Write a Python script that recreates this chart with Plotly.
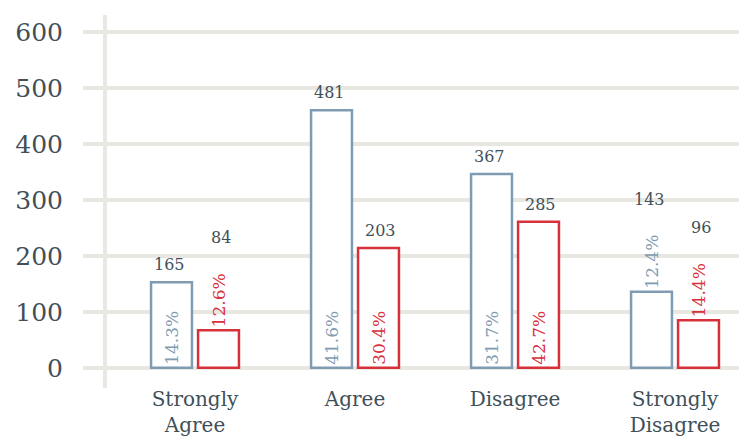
import plotly.graph_objects as go

categories = ["Strongly<br>Agree", "Agree", "Disagree", "Strongly<br>Disagree"]

# bar heights as drawn
blue_heights = [153, 460, 346, 136]
red_heights = [67, 214, 261, 85]

# labels shown on the chart
blue_counts = [165, 481, 367, 143]
red_counts = [84, 203, 285, 96]
blue_pct = ["14.3%", "41.6%", "31.7%", "12.4%"]
red_pct = ["12.6%", "30.4%", "42.7%", "14.4%"]
blue_pos = ["inside", "inside", "inside", "outside"]
red_pos = ["outside", "inside", "inside", "outside"]

y_ticks = [0, 100, 200, 300, 400, 500, 600]

BLUE = "#7f9cb3"
RED = "#d7303b"
TEXT = "#3f5059"
GRID = "#e9e7e1"
FONT = "DejaVu Serif"

x = list(range(len(categories)))

fig = go.Figure()
for heights, pct, pos, color in [(blue_heights, blue_pct, blue_pos, BLUE),
                                 (red_heights, red_pct, red_pos, RED)]:
    fig.add_trace(go.Bar(
        x=x,
        y=heights,
        marker=dict(color="white", line=dict(color=color, width=2.5)),
        text=pct,
        textposition=pos,
        textangle=-90,
        insidetextanchor="start",
        textfont=dict(family=FONT, size=17, color=color),
        cliponaxis=False,
        showlegend=False,
    ))

# count labels above the bars (and above the outside percentages)
for offset, heights, counts, pos in [(-0.16, blue_heights, blue_counts, blue_pos),
                                     (0.16, red_heights, red_counts, red_pos)]:
    for i, (h, c, p) in enumerate(zip(heights, counts, pos)):
        fig.add_annotation(
            x=i + offset, y=h, text=str(c),
            showarrow=False, yanchor="bottom",
            yshift=6 if p == "inside" else 81,
            font=dict(family=FONT, size=16, color=TEXT),
        )

# page body adds an 8px margin, so the figure is 8px smaller
fig.update_layout(
    width=739,
    height=429,
    margin=dict(l=99, r=0, t=7, b=49),
    paper_bgcolor="white",
    plot_bgcolor="white",
    barmode="group",
    bargap=0.4125,
    bargroupgap=0.13,
    uniformtext=dict(minsize=17, mode="show"),
    font=dict(family=FONT, color=TEXT),
)
fig.update_xaxes(
    tickvals=x,
    ticktext=categories,
    range=[-0.55, 3.45],
    showgrid=False,
    zeroline=False,
    showline=False,
    automargin=False,
    ticklabelstandoff=-3,
    tickfont=dict(family=FONT, size=20, color=TEXT),
)
fig.update_yaxes(
    range=[-36, 630],
    tickvals=y_ticks,
    showgrid=True,
    gridcolor=GRID,
    gridwidth=4,
    zeroline=False,
    showline=True,
    linecolor=GRID,
    linewidth=4,
    ticks="outside",
    ticklen=20,
    tickwidth=4,
    tickcolor=GRID,
    automargin=False,
    ticklabelstandoff=15,
    tickfont=dict(family=FONT, size=25, color=TEXT),
)

fig.write_html("out.html")
